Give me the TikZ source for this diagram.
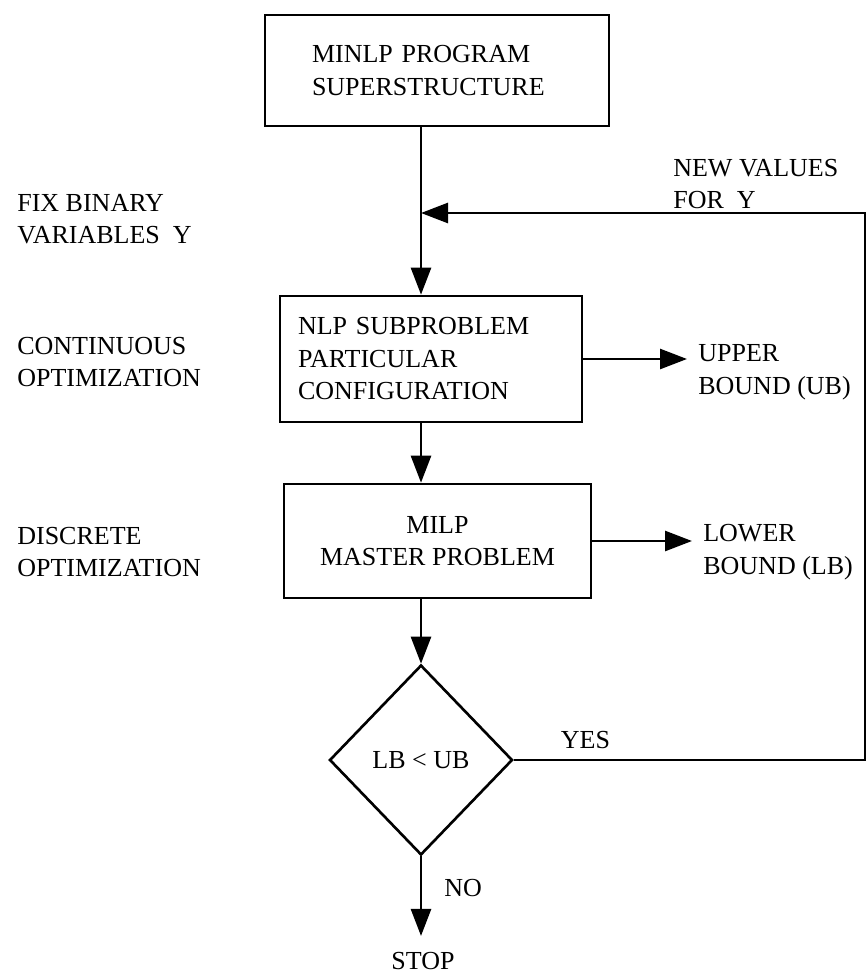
\documentclass[tikz,border=0pt]{standalone}
\usepackage{fontspec}
\setmainfont{Liberation Serif}
\usepackage{tikz}
\usetikzlibrary{arrows.meta,shapes.geometric}

\begin{document}
\begin{tikzpicture}[
    x=0.2mm,
    y=-0.2mm,
    font=\fontsize{14.8}{18.5}\selectfont,
    line width=1.5pt,
    box/.style={
        draw,
        minimum height=22.5mm
    },
    lbl/.style={
        align=left,
        inner sep=0pt
    },
    arr/.style={
        -{Triangle[length=5.4mm,width=4mm]}
    }
]

\useasboundingbox (0,0) rectangle (866,977);

\node[
    box,
    minimum width=68.8mm,
    minimum height=22.2mm,
    text width=50mm,
    inner xsep=9.4mm,
    align=left
] (minlp) at (437,70.5)
{MINLP PROGRAM\\SUPERSTRUCTURE};

\node[
    box,
    minimum width=60.4mm,
    minimum height=25.2mm,
    text width=53.2mm,
    inner xsep=3.6mm,
    align=left
] (nlp) at (431,359)
{NLP SUBPROBLEM\\PARTICULAR\\CONFIGURATION};

\node[
    box,
    minimum width=61.4mm,
    minimum height=22.8mm,
    align=center
] (milp) at (437.5,541)
{MILP\\MASTER PROBLEM};

\node[
    draw,
    diamond,
    aspect=1,
    minimum width=36.6mm,
    minimum height=38mm,
    inner sep=0pt
] (test) at (421,760)
{LB < UB};

% side labels
\node[lbl,anchor=west] (fix) at (16,219) {FIX BINARY\\VARIABLES\enspace Y};
\node[lbl,anchor=west] (cont) at (16,362) {CONTINUOUS\\OPTIMIZATION};
\node[lbl,anchor=west] (disc) at (16,552) {DISCRETE\\OPTIMIZATION};

\node[lbl,anchor=west] (newy) at (672,184) {NEW VALUES\\FOR\enspace Y};
\node[lbl,anchor=west] (ub) at (697,372) {UPPER\\BOUND (UB)};
\node[lbl,anchor=west] (lb) at (702,552) {LOWER\\BOUND (LB)};

\node[lbl] (yes) at (585.5,740) {YES};
\node[lbl,anchor=west] (no) at (443,888.5) {NO};
\node[lbl] (stop) at (423,961) {STOP};

\coordinate (jn) at (421,213);
\coordinate (ret) at (865,213);

\draw (minlp.south -| jn)--(jn);
\draw[arr] (jn)--(nlp.north -| jn);
\draw[arr] (nlp.south -| jn)--(milp.north -| jn);
\draw[arr] (milp.south -| jn)--(test.north);

\draw[arr,shorten >=2mm] (nlp.east)--(nlp.east -| ub.west);
\draw[arr,shorten >=2mm] (milp.east)--(milp.east -| lb.west);

\draw[arr] (test.east) -| (ret) -- (jn);
\draw[arr,shorten >=3mm] (test.south)--(test.south |- stop.north);

\end{tikzpicture}
\end{document}
